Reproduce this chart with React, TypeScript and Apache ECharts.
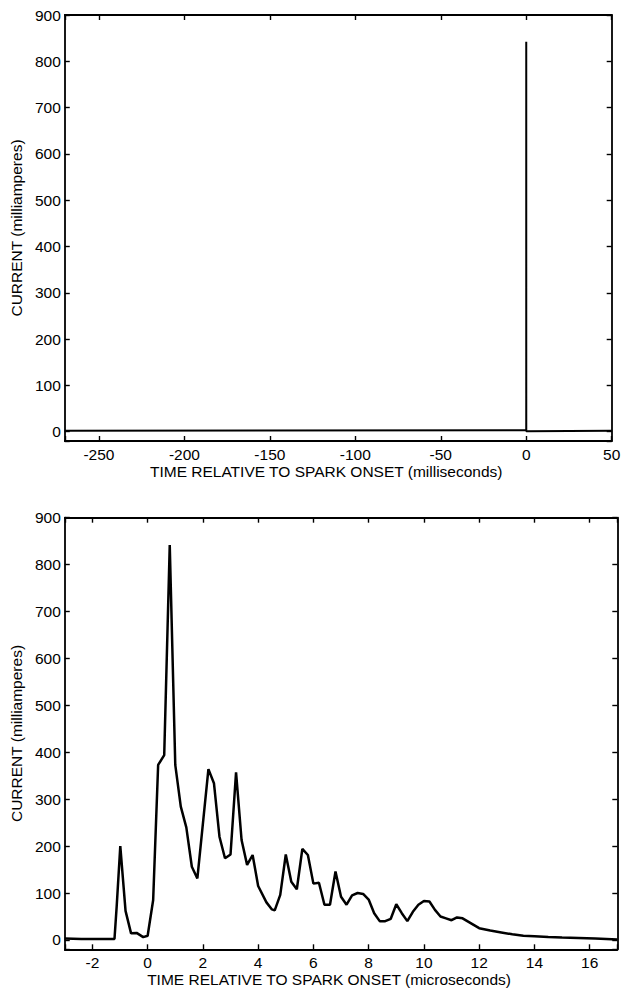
import React, { useEffect, useRef } from "react";
import * as echarts from "echarts";

// Spark current, microsecond time base
const timeMicroseconds = [
  -3, -2.4, -1.8, -1.2, -1.12, -0.99, -0.8, -0.6, -0.4, -0.16, 0.0, 0.2, 0.38, 0.6, 0.8, 1.0,
  1.2, 1.4, 1.6, 1.8, 2.2, 2.4, 2.6, 2.8, 3.0, 3.2, 3.4, 3.6, 3.8, 4.0, 4.3, 4.5, 4.6, 4.8,
  5.0, 5.2, 5.4, 5.6, 5.8, 6.0, 6.2, 6.4, 6.6, 6.8, 7.0, 7.2, 7.4, 7.6, 7.8, 8.0, 8.2, 8.4,
  8.6, 8.8, 9.0, 9.2, 9.4, 9.6, 9.8, 10.0, 10.2, 10.4, 10.6, 10.8, 11.0, 11.2, 11.4, 11.6,
  11.8, 12.0, 12.4, 12.8, 13.2, 13.6, 14.0, 14.5, 15.0, 15.6, 16.2, 17.0,
];
const currentMilliamperes = [
  3, 2, 2, 2, 72, 200, 62, 14, 15, 6, 9, 85, 373, 394, 842, 373,
  284, 240, 156, 131, 364, 334, 220, 174, 182, 357, 213, 160, 181, 115, 80, 65, 63, 96,
  182, 124, 108, 194, 181, 120, 122, 75, 75, 146, 92, 75, 95, 100, 98, 86, 57, 40,
  40, 45, 76, 57, 40, 60, 75, 83, 82, 64, 50, 46, 42, 48, 46, 39,
  32, 25, 20, 16, 12, 9, 8, 6, 5, 4, 3, 1,
];
// Long baseline for the millisecond panel
const baselineMsStart = [-270, 2];
const baselineMsEnd = [50, 2];

const xTitleMs = "TIME RELATIVE TO SPARK ONSET (milliseconds)";
const xTitleUs = "TIME RELATIVE TO SPARK ONSET (microseconds)";
const yTitle = "CURRENT (milliamperes)";

const FONT = "Liberation Sans, Arial, sans-serif";
const FS = 15.5;

export default function App() {
  const ref = useRef<HTMLDivElement>(null);
  useEffect(() => {
    document.body.style.margin = "0";
    if (!ref.current) return;
    const chart = echarts.init(ref.current, undefined, { renderer: "svg" });

    const usData = timeMicroseconds.map((t, i) => [t, currentMilliamperes[i]]);
    const msData = [
      baselineMsStart,
      ...timeMicroseconds.map((t, i) => [t / 1000, currentMilliamperes[i]]),
      baselineMsEnd,
    ];

    const axisLine = { show: true, onZero: false, lineStyle: { color: "#000", width: 1.8 } };
    const axisTick = { show: true, inside: true, length: 5, lineStyle: { color: "#000", width: 1.4 } };
    const labelStyle = { color: "#000", fontSize: FS, fontFamily: FONT };
    const nameStyle = { color: "#000", fontSize: FS, fontFamily: FONT };

    const mkX = (gi: number, min: number, max: number, split: number, step: number, name: string) => [
      {
        type: "value", gridIndex: gi, min, max, splitNumber: split, position: "bottom",
        name, nameLocation: "middle", nameGap: 22, nameTextStyle: { ...nameStyle, padding: [0, 24, 0, 0] },
        axisLine, axisTick, splitLine: { show: false },
        axisLabel: {
          ...labelStyle, margin: 5,
          formatter: (v: number) => (Math.abs(v / step - Math.round(v / step)) < 1e-6 ? String(Math.round(v)) : ""),
        },
      },
      {
        type: "value", gridIndex: gi, min, max, splitNumber: split, position: "top",
        axisLine, axisTick, splitLine: { show: false }, axisLabel: { show: false },
      },
    ];
    const mkY = (gi: number) => [
      {
        type: "value", gridIndex: gi, min: -20, max: 900, splitNumber: 9, position: "left",
        name: yTitle, nameLocation: "middle", nameGap: 30, nameTextStyle: nameStyle,
        axisLine, axisTick, splitLine: { show: false },
        axisLabel: {
          ...labelStyle, margin: 4,
          formatter: (v: number) => (Math.round(v) % 100 === 0 ? String(Math.round(v)) : ""),
        },
      },
      {
        type: "value", gridIndex: gi, min: -20, max: 900, splitNumber: 9, position: "right",
        axisLine, axisTick, splitLine: { show: false }, axisLabel: { show: false },
      },
    ];

    chart.setOption({
      animation: false,
      backgroundColor: "#fff",
      grid: [
        { left: 63.5, right: 15.3, top: 15, height: 426 },
        { left: 63.3, right: 9.7, top: 517.7, height: 431.6 },
      ],
      xAxis: [...mkX(0, -270, 50, 6, 50, xTitleMs), ...mkX(1, -3, 17, 10, 2, xTitleUs)],
      yAxis: [...mkY(0), ...mkY(1)],
      series: [
        {
          type: "line", xAxisIndex: 0, yAxisIndex: 0, data: msData, showSymbol: false,
          lineStyle: { color: "#000", width: 2 }, silent: true,
        },
        {
          type: "line", xAxisIndex: 2, yAxisIndex: 2, data: usData, showSymbol: false,
          lineStyle: { color: "#000", width: 2.5 }, silent: true,
        },
      ],
    });
    return () => chart.dispose();
  }, []);
  return <div ref={ref} style={{ width: 627, height: 991 }} />;
}
